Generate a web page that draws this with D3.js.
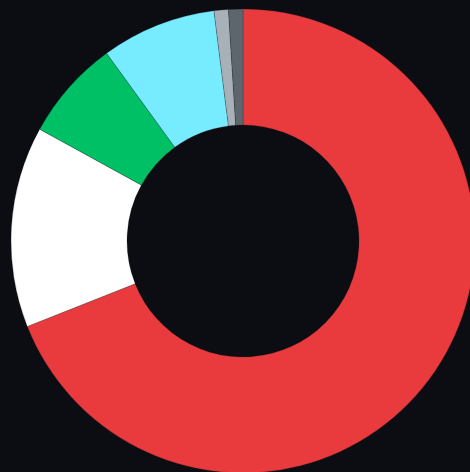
<!DOCTYPE html>
<html lang="en">
<head>
    <meta charset="UTF-8">
    <title>Donut</title>
    <script src="https://d3js.org/d3.v7.min.js"></script>
    <style>
        html, body { margin: 0; padding: 0; background: #0b0d12; overflow: hidden; }
        .slice { stroke: #0b0d12; stroke-width: 0.2px; }
    </style>
</head>
<body>
    <svg width="470" height="472"></svg>
    <script>
        // share of each category, in percent (clockwise from 12 o'clock)
        const categories = ["A", "B", "C", "D", "E", "F"];
        const values = [69, 14, 7, 8, 1, 1];
        const colors = ["#e93a3d", "#ffffff", "#00c066", "#77ebff", "#a8b0b8", "#5d656d"];

        const svg = d3.select("svg"),
            cx = 243, cy = 241,
            outer = 232, inner = 116;

        const g = svg.append("g").attr("transform", "translate(" + cx + "," + cy + ")");

        const color = d3.scaleOrdinal().domain(categories).range(colors);

        const pie = d3.pie().sort(null).value(d => d.value);
        const arc = d3.arc().innerRadius(inner).outerRadius(outer);

        const data = categories.map((c, i) => ({ name: c, value: values[i] }));

        g.selectAll("path")
            .data(pie(data))
            .join("path")
            .attr("class", "slice")
            .attr("fill", d => color(d.data.name))
            .attr("d", arc);
    </script>
</body>
</html>
